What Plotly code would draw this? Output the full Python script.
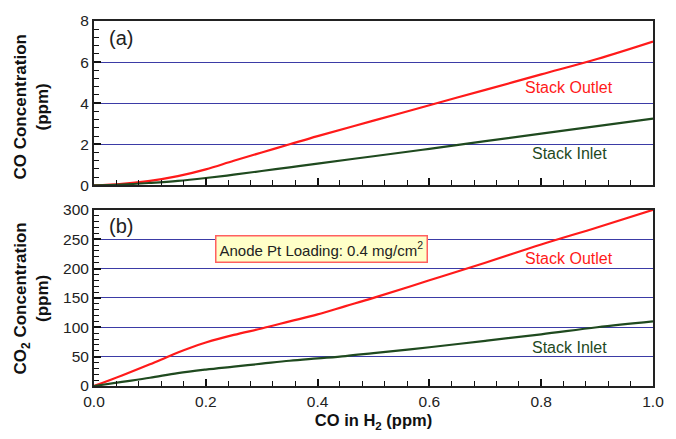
import plotly.graph_objects as go

# CO feed concentration in H2 (ppm)
co_in_h2 = [0, 0.05, 0.1, 0.15, 0.2, 0.25, 0.3, 0.35, 0.4, 0.5, 0.6, 0.7, 0.8, 0.9, 1.0]
co_outlet = [0, 0.08, 0.22, 0.45, 0.78, 1.2, 1.6, 2.0, 2.4, 3.15, 3.9, 4.65, 5.4, 6.15, 7.0]
co_inlet = [0, 0.04, 0.12, 0.22, 0.36, 0.52, 0.7, 0.88, 1.06, 1.42, 1.78, 2.15, 2.52, 2.88, 3.25]

co2_x_outlet = [0, 0.05, 0.1, 0.13, 0.15, 0.175, 0.2, 0.25, 0.3, 0.35, 0.4, 0.45, 0.5, 0.6, 0.7, 0.8, 0.9, 1.0]
co2_outlet = [0, 18, 37, 49, 57, 66, 74, 87, 98, 110, 122, 136, 150, 180, 210, 241, 270, 300]
co2_x_inlet = [0, 0.05, 0.1, 0.15, 0.2, 0.25, 0.3, 0.35, 0.4, 0.45, 0.5, 0.6, 0.7, 0.8, 0.9, 1.0]
co2_inlet = [0, 7, 14, 22, 28, 33, 38, 43, 47, 51, 56, 66, 77, 88, 100, 110]

RED = "#ff1a1a"
GREEN = "#1f4a1f"
GRID = "#3b3ba6"
TICK = "#111111"
FONT = "Liberation Sans, Arial, sans-serif"

fig = go.Figure()
fig.add_trace(go.Scatter(x=co_in_h2, y=co_outlet, mode="lines", line=dict(color=RED, width=2.2, shape="spline"),
                         xaxis="x", yaxis="y", showlegend=False))
fig.add_trace(go.Scatter(x=co_in_h2, y=co_inlet, mode="lines", line=dict(color=GREEN, width=2.2, shape="spline"),
                         xaxis="x", yaxis="y", showlegend=False))
fig.add_trace(go.Scatter(x=co2_x_outlet, y=co2_outlet, mode="lines", line=dict(color=RED, width=2.2, shape="spline"),
                         xaxis="x2", yaxis="y2", showlegend=False))
fig.add_trace(go.Scatter(x=co2_x_inlet, y=co2_inlet, mode="lines", line=dict(color=GREEN, width=2.2, shape="spline"),
                         xaxis="x2", yaxis="y2", showlegend=False))

axis_common = dict(showline=True, linecolor="#222", linewidth=2, mirror=True,
                   ticks="inside", ticklen=7, tickcolor=TICK, tickwidth=1.5,
                   tickfont=dict(family=FONT, size=15.5, color="#222"), zeroline=False)
minor_x = dict(dtick=0.04, tick0=0, ticks="inside", ticklen=5, tickcolor=TICK, tickwidth=1.3, showgrid=False)

fig.update_layout(
    width=676, height=439,
    margin=dict(l=94, r=12, t=17, b=49),
    paper_bgcolor="white", plot_bgcolor="white",
    font=dict(family=FONT, color="#222"),
    xaxis=dict(domain=[0, 1], anchor="y", range=[0, 1], tick0=0, dtick=0.2, showticklabels=False,
               showgrid=False, minor=minor_x, **axis_common),
    yaxis=dict(domain=[0.5496, 1], anchor="x", range=[0, 8], tick0=0, dtick=2,
               showgrid=True, gridcolor=GRID, gridwidth=1,
               minor=dict(dtick=0.4, tick0=0, ticks="inside", ticklen=5, tickcolor=TICK, tickwidth=1.3,
                          showgrid=False),
               **axis_common),
    xaxis2=dict(domain=[0, 1], anchor="y2", range=[0, 1], tick0=0, dtick=0.2, tickformat=".1f",
                showgrid=False, minor=minor_x,
                title=dict(text="<b>CO in H<sub>2</sub> (ppm)</b>", font=dict(family=FONT, size=16.5, color="#111"),
                           standoff=6),
                **axis_common),
    yaxis2=dict(domain=[0, 0.4826], anchor="x2", range=[0, 300], tick0=0, dtick=50,
                showgrid=True, gridcolor=GRID, gridwidth=1,
                minor=dict(dtick=10, tick0=0, ticks="inside", ticklen=5, tickcolor=TICK, tickwidth=1.3,
                           showgrid=False),
                **axis_common),
)

label_font = dict(family=FONT, size=16)
title_font = dict(family=FONT, size=17, color="#111")
annotations = [
    dict(text="<b>CO Concentration<br>(ppm)</b>", x=-0.112, y=0.764, xref="paper", yref="paper",
         xanchor="center", yanchor="middle", textangle=-90, showarrow=False, font=title_font),
    dict(text="<b>CO<sub>2</sub> Concentration<br>(ppm)</b>", x=-0.112, y=0.241, xref="paper", yref="paper",
         xanchor="center", yanchor="middle", textangle=-90, showarrow=False, font=title_font),
    dict(text="(a)", x=0.023, y=7.15, xref="x", yref="y", xanchor="left", showarrow=False,
         font=dict(family=FONT, size=20, color="#222")),
    dict(text="(b)", x=0.023, y=272, xref="x2", yref="y2", xanchor="left", showarrow=False,
         font=dict(family=FONT, size=20, color="#222")),
    dict(text="Stack Outlet", x=0.85, y=4.76, xref="x", yref="y", showarrow=False,
         font=dict(label_font, color=RED)),
    dict(text="Stack Inlet", x=0.85, y=1.57, xref="x", yref="y", showarrow=False,
         font=dict(label_font, color=GREEN)),
    dict(text="Stack Outlet", x=0.85, y=218, xref="x2", yref="y2", showarrow=False,
         font=dict(label_font, color=RED)),
    dict(text="Stack Inlet", x=0.85, y=65, xref="x2", yref="y2", showarrow=False,
         font=dict(label_font, color=GREEN)),
    dict(text="Anode Pt Loading: 0.4 mg/cm<sup>2</sup>", x=0.407, y=233, xref="x2", yref="y2", showarrow=False,
         font=dict(family=FONT, size=15, color="#222"), bgcolor="#ffffc8", bordercolor="#ff6060",
         borderwidth=1.5, borderpad=3),
]
fig.update_layout(annotations=annotations)

fig.write_html("out.html")
